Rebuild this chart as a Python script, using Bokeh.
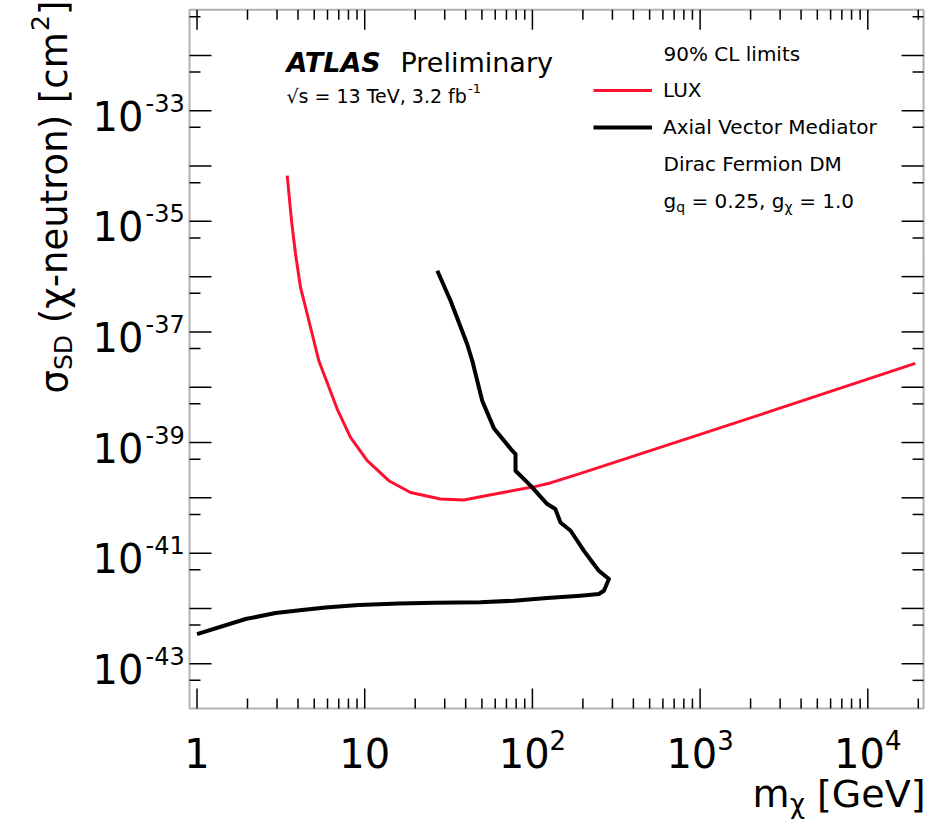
import math
from bokeh.plotting import figure
from bokeh.models import Range1d, Label, Legend, LegendItem, BoxAnnotation
from bokeh.embed import file_html
from bokeh.resources import INLINE

# ---------------- data ----------------
lux_mass = [3.451, 3.660, 3.868, 4.142, 4.541, 5.325, 6.855, 8.228, 10.35, 13.92,
            18.76, 28.3, 39.0, 53.6, 70.8, 101.9, 128, 194, 255, 2510, 19200]
lux_xsec = [6.68e-35, 1.03e-35, 2.56e-36, 6.38e-37, 2.11e-37, 3.01e-38, 4.03e-39,
            1.24e-39, 4.69e-40, 2.04e-40, 1.25e-40, 9.5e-41, 9.1e-41, 1.10e-40,
            1.29e-40, 1.58e-40, 1.86e-40, 2.77e-40, 3.63e-40, 3.5e-39, 2.7e-38]

atlas_mass = [1.00, 1.95, 2.94, 4.24, 5.84, 9.22, 15.97, 26.4, 49.0, 77.5, 122.5,
              193.6, 249, 267, 286, 249, 232, 203, 169, 147, 137, 122.5, 97.5,
              79.3, 79.3, 75.8, 58.9, 50.2, 43.8, 40.8, 32.5, 27.1]
atlas_xsec = [3.44e-43, 6.43e-43, 8.26e-43, 9.36e-43, 1.04e-42, 1.15e-42,
              1.23e-42, 1.27e-42, 1.29e-42, 1.38e-42, 1.54e-42, 1.70e-42,
              1.82e-42, 2.09e-42, 3.40e-42, 4.81e-42, 6.35e-42, 1.10e-41,
              2.54e-41, 3.59e-41, 6.27e-41, 7.72e-41, 1.66e-40, 3.09e-40,
              6.19e-40, 7.11e-40, 1.82e-39, 5.70e-39, 3.01e-38, 6.04e-38,
              3.66e-37, 1.28e-36]

x_tick_values = [1, 10, 100, 1000, 10000]
x_tick_base = ["1", "10", "10", "10", "10"]
x_tick_exp = ["", "", "2", "3", "4"]
y_label_exps = [-33, -35, -37, -39, -41, -43]

# axis box (data) and the full-canvas view around it
XMIN, XMAX = 0.902, 2.15e4
YMIN, YMAX = 1.55e-44, 6.7e-32
CW, CH = 937, 819
DX, DY = 167.7, 55.3          # pixels per decade
FL, FB = 189, 708             # box left / bottom in canvas pixels
X0 = XMIN * 10 ** (-FL / DX)
X1 = XMIN * 10 ** ((CW - FL) / DX)
Y0 = YMIN * 10 ** (-(CH - FB) / DY)
Y1 = YMIN * 10 ** (FB / DY)

FONT = "DejaVu Sans"
RED = "#ff1030"

# approximate DejaVu Sans advance widths (em)
W = {' ': .318, '(': .390, ')': .390, '[': .390, ']': .390, '-': .361, 'σ': .634,
     'χ': .592, 'n': .634, 'e': .615, 'u': .634, 't': .392, 'r': .411, 'o': .612,
     'c': .550, 'm': .974, 'S': .635, 'D': .770, 'G': .775, 'V': .684, '.': .318,
     ',': .318, '=': .838, 'f': .352, 'b': .635, 'g': .635, 'q': .635, 's': .521,
     '√': .636, 'T': .611}


def tw(s, size):
    return sum(W.get(ch, .636) for ch in s) * size


p = figure(width=CW, height=CH, x_axis_type="log", y_axis_type="log",
           x_range=Range1d(X0, X1), y_range=Range1d(Y0, Y1),
           x_axis_location=None, y_axis_location=None,
           output_backend="svg", toolbar_location=None, min_border=0)
p.grid.visible = False
p.outline_line_color = None
p.background_fill_color = "white"
p.border_fill_color = "white"

# ticks (inside the box, on all four sides)
x_minor = [m * 10 ** k for k in range(0, 5) for m in range(2, 10) if XMIN < m * 10 ** k < XMAX]
y_major = [10.0 ** k for k in range(-45, -30) if YMIN < 10.0 ** k < YMAX]
y_minor = [5 * 10.0 ** k for k in range(-45, -31) if YMIN < 5 * 10.0 ** k < YMAX]


def xticks(vals, ln):
    n = len(vals)
    up = 10 ** (ln / DY)
    p.segment(x0=vals, y0=[YMIN] * n, x1=vals, y1=[YMIN * up] * n,
              line_color="black", line_width=1.5)
    p.segment(x0=vals, y0=[YMAX] * n, x1=vals, y1=[YMAX / up] * n,
              line_color="black", line_width=1.5)


def yticks(vals, ln):
    n = len(vals)
    rt = 10 ** (ln / DX)
    p.segment(x0=[XMIN] * n, y0=vals, x1=[XMIN * rt] * n, y1=vals,
              line_color="black", line_width=1.5)
    p.segment(x0=[XMAX] * n, y0=vals, x1=[XMAX / rt] * n, y1=vals,
              line_color="black", line_width=1.5)


xticks(x_tick_values, 20)
xticks(x_minor, 10)
yticks(y_major, 22)
yticks(y_minor, 11)

p.add_layout(BoxAnnotation(left=XMIN, right=XMAX, bottom=YMIN, top=YMAX,
                           fill_alpha=0, line_color="black", line_width=2))

r_lux = p.line(lux_mass, lux_xsec, line_color=RED, line_width=3)
r_atlas = p.line(atlas_mass, atlas_xsec, line_color="black", line_width=4,
                 line_join="round")

legend = Legend(items=[LegendItem(label="LUX", renderers=[r_lux]),
                       LegendItem(label="Axial Vector Mediator", renderers=[r_atlas])],
                location=(593, CH - 144), glyph_width=59, glyph_height=34,
                label_height=34, spacing=3, padding=0, margin=0,
                label_standoff=11, label_text_font=FONT,
                label_text_font_size="20px", label_text_color="black",
                border_line_alpha=0, background_fill_alpha=0)
p.add_layout(legend)


def txt(s, px, py, size, align="left", angle=0.0, style="normal"):
    """py is the vertical centre of the text line (canvas px)."""
    lead = len(s) - len(s.lstrip(" "))
    if lead and align == "left":
        d = lead * W[' '] * size
        px += d * math.cos(angle)
        py -= d * math.sin(angle)
        s = s.lstrip(" ")
    s = s.rstrip(" ") if align == "left" else s.strip(" ")
    p.add_layout(Label(x=XMIN, y=YMIN, x_offset=px - FL, y_offset=FB - py,
                       text=s, text_font=FONT, text_font_size=f"{size}px",
                       text_align=align, text_baseline="alphabetic",
                       angle=angle, text_font_style=style, text_color="black"))


# y tick labels
for k in y_label_exps:
    p.add_layout(Label(x=XMIN, y=10.0 ** k, x_offset=143 - FL, y_offset=-5,
                       text="10", text_font=FONT, text_font_size="40px",
                       text_align="right", text_baseline="alphabetic",
                       text_color="black"))
    p.add_layout(Label(x=XMIN, y=10.0 ** k, x_offset=145 - FL, y_offset=8,
                       text=str(k), text_font=FONT, text_font_size="24px",
                       text_align="left", text_baseline="alphabetic",
                       text_color="black"))

# x tick labels
for v, b, e in zip(x_tick_values, x_tick_base, x_tick_exp):
    wb, we = tw(b, 40), tw(e, 26)
    start = -(wb + we) / 2
    p.add_layout(Label(x=v, y=YMIN, x_offset=start, y_offset=-44, text=b,
                       text_font=FONT, text_font_size="40px", text_align="left",
                       text_baseline="alphabetic", text_color="black"))
    if e:
        p.add_layout(Label(x=v, y=YMIN, x_offset=start + wb, y_offset=-31, text=e,
                           text_font=FONT, text_font_size="26px", text_align="left",
                           text_baseline="alphabetic", text_color="black"))

# x axis title  m_chi [GeV]
xr = 925
t3 = " [GeV]"
txt(t3, xr, 793, 38, align="right")
xr -= tw(t3, 38)
txt("χ", xr, 803, 26, align="right")
xr -= tw("χ", 26)
txt("m", xr, 793, 38, align="right")

# y axis title (rotated)
B = 54
y0 = 393
pieces = [("σ", 37, 0), ("SD", 25, 9), (" (χ-neutron) [cm", 37, 0), ("2", 25, -15), ("]", 37, 0)]
cum = 0.0
for s, size, shift in pieces:
    txt(s, B + shift, y0 - cum, size, angle=math.pi / 2)
    cum += tw(s, size)

# ATLAS label
txt("ATLAS", 286, 62, 27, style="bold italic")
txt("Preliminary", 400, 62, 27)
s1 = "√s = 13 TeV, 3.2 fb"
txt(s1, 286, 95, 19)
txt("-1", 284 + tw(s1, 19), 88, 13)

# legend texts
LX = 663
txt("90% CL limits", LX, 53, 20)
txt("Dirac Fermion DM", LX, 163, 20)
gx = LX
for s, size, dy in [("g", 20, 0), ("q", 14, 6), (" = 0.25, g", 20, 0), ("χ", 14, 6), (" = 1.0", 20, 0)]:
    txt(s, gx, 200 + dy, size)
    gx += tw(s, size)

open("out.html", "w").write(file_html(p, INLINE))
